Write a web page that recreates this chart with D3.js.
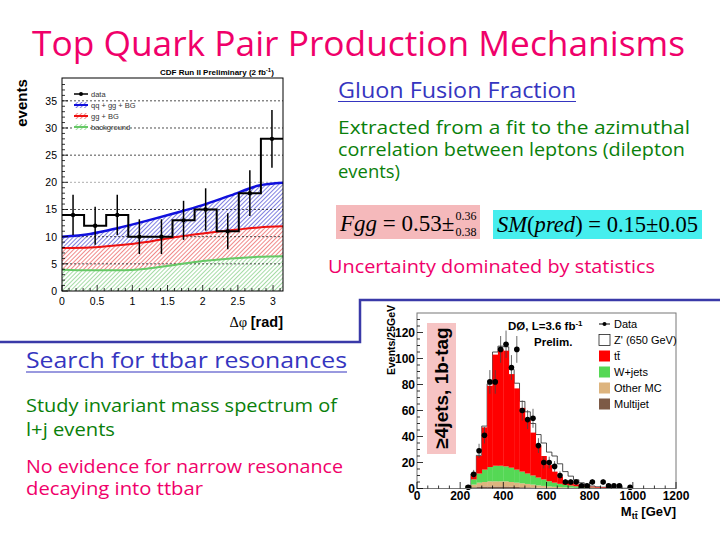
<!DOCTYPE html>
<html>
<head>
<script src="https://d3js.org/d3.v7.min.js"></script>
<style>
body { margin: 0; background: #fff; }
svg { display: block; }
.slide { font-family: "Comic Sans MS", "Open Sans", sans-serif; }
.plot text { font-family: Arial, "Liberation Sans", sans-serif; }
</style>
</head>
<body>
<svg width="720" height="540"></svg>
<script>

// CDF delta-phi distribution (10 bins from 0 to pi)
const dphiCounts = [14, 12, 14, 10, 10, 13, 15, 11, 18, 28];
const dphiErr    = [3.7, 3.5, 3.7, 3.2, 3.2, 3.6, 3.9, 3.3, 4.2, 5.3];

// fit curves
const fitPhi   = [0, 0.4, 0.8, 1.2, 1.6, 2.0, 2.4, 2.8, 3.1416];
const fitTotal = [10.0, 10.5, 11.6, 12.9, 14.3, 15.8, 17.6, 19.4, 19.9];
const fitGG    = [7.9, 8.0, 8.4, 9.0, 9.9, 10.6, 11.2, 11.7, 11.9];
const fitBkg   = [3.9, 3.8, 3.8, 4.1, 4.8, 5.5, 6.0, 6.3, 6.4];

// D0 M_tt spectrum, 25 GeV bins (low edges)
const mttLow   = [225,250,275,300,325,350,375,400,425,450,475,500,525,550,575,600,625,650,675,700,725,750,775,800,825,850,875,900,925,950,975];
const multijet = [0.3,1,1.5,1.5,1.5,1.5,1.5,1.5,1.4,1.2,1,0.9,0.8,0.6,0.5,0.4,0.3,0.3,0.2,0.2,0.1,0.1,0.1,0.1,0,0,0,0,0,0,0];
const otherMC  = [0.5,2,3,3.5,4,4,4,4,3.6,3.3,3,2.6,2.2,1.8,1.5,1.2,1,0.8,0.6,0.5,0.4,0.3,0.2,0.2,0.1,0.1,0.1,0,0,0,0];
const wjets    = [1,4,7,9.5,11,12,12,11.5,11,10,9,8,7,6,5,4,3.2,2.5,2,1.6,1.2,0.9,0.7,0.5,0.4,0.3,0.2,0.2,0.1,0.1,0.1];
const ttbar    = [0.2,4,13.5,32.5,62.5,85.5,89.5,89,72,62.5,49,41.5,33,24.6,18,12.4,8.5,5.4,3.2,2.2,1.5,1.1,0.9,0.6,0.5,0.4,0.3,0.2,0.2,0.1,0.1];
const zprime   = [0,0.3,0.5,1,1.5,2,2.5,3,3.5,4,5,6,7,8.5,10,10,12,10,7,5,3.5,2,1,0.5,0.3,0.2,0,0,0,0,0];
const mttData  = [1,11,29,41,82,82,107,111,93,107,60,53,54,33,20,20,17,10,5,5,5,2,2,5,null,5,2,2,2,null,1];
const mttErr   = [1,3.3,5.4,6.4,9.1,9.1,10.3,10.5,9.6,10.3,7.7,7.3,7.3,5.7,4.5,4.5,4.1,3.2,2.2,2.2,2.2,1.4,1.4,2.2,0,2.2,1.4,1.4,1.4,0,1];

const svg = d3.select("svg");
const defs = svg.append("defs");

function hatch(id, color) {
  const p = defs.append("pattern").attr("id", id)
    .attr("patternUnits", "userSpaceOnUse")
    .attr("width", 3).attr("height", 3)
    .attr("patternTransform", "rotate(45)");
  p.append("rect").attr("width", 3).attr("height", 3).attr("fill", "#fff");
  p.append("line").attr("x1", 0.5).attr("y1", 0).attr("x2", 0.5).attr("y2", 3)
    .attr("stroke", color).attr("stroke-width", 1);
}
hatch("hBlue", "#8080e0");
hatch("hRed", "#f08a8a");
hatch("hGreen", "#a6dca6");

// ---------------- slide text ----------------
const slide = svg.append("g").attr("class", "slide");
const pink = "#f0006a", green = "#0a800a", blue = "#3535c0";

function line(txt, x, y, size, color, len) {
  return slide.append("text").attr("x", x).attr("y", y)
    .attr("font-size", size).attr("fill", color)
    .attr("textLength", len).attr("lengthAdjust", "spacingAndGlyphs")
    .text(txt);
}
line("Top Quark Pair Production Mechanisms", 32, 56, 34, pink, 653);
line("Gluon Fusion Fraction", 338, 98, 21, blue, 238);
slide.append("line").attr("x1", 338).attr("x2", 576).attr("y1", 101.5).attr("y2", 101.5)
  .attr("stroke", blue).attr("stroke-width", 1.2);
line("Extracted from a fit to the azimuthal", 338, 134, 17.5, green, 352);
line("correlation between leptons (dilepton", 338, 156, 17.5, green, 347);
line("events)", 338, 178, 17.5, green, 62);
line("Uncertainty dominated by statistics", 328, 273, 17.5, pink, 327);
line("Search for ttbar resonances", 26, 368, 21, blue, 321);
slide.append("line").attr("x1", 26).attr("x2", 347).attr("y1", 372).attr("y2", 372)
  .attr("stroke", blue).attr("stroke-width", 1.2);
line("Study invariant mass spectrum of", 26, 412, 17.5, green, 311);
line("l+j events", 26, 436, 17.5, green, 89);
line("No evidence for narrow resonance", 26, 473, 17.5, pink, 317);
line("decaying into ttbar", 26, 495, 17.5, pink, 177);

// formula boxes
const serif = "'Liberation Serif', 'Times New Roman', serif";
svg.append("rect").attr("x", 336).attr("y", 205).attr("width", 144).attr("height", 34).attr("fill", "#f5b9bb");
svg.append("rect").attr("x", 493).attr("y", 210).attr("width", 209).attr("height", 29).attr("fill", "#46eeee");
const f1 = svg.append("text").attr("x", 340).attr("y", 231).attr("font-family", serif).attr("font-size", 23);
f1.append("tspan").attr("font-style", "italic").text("Fgg");
f1.append("tspan").text(" = 0.53\u00b1");
const f1w = f1.node().getComputedTextLength();
svg.append("text").attr("x", 340 + f1w + 1).attr("y", 220).attr("font-family", serif).attr("font-size", 12).text("0.36");
svg.append("text").attr("x", 340 + f1w + 1).attr("y", 236).attr("font-family", serif).attr("font-size", 12).text("0.38");
const f2 = svg.append("text").attr("x", 497).attr("y", 232).attr("font-family", serif).attr("font-size", 23)
  .attr("textLength", 201).attr("lengthAdjust", "spacingAndGlyphs");
f2.append("tspan").attr("font-style", "italic").text("SM");
f2.append("tspan").text("(");
f2.append("tspan").attr("font-style", "italic").text("pred");
f2.append("tspan").text(") = 0.15\u00b10.05");

// blue separator frame
svg.append("path").attr("d", "M0,342H360V300H720")
  .attr("fill", "none").attr("stroke", "#3a3aa8").attr("stroke-width", 2.5);

// ---------------- CDF plot ----------------
const p1 = svg.append("g").attr("class", "plot");
const x1 = d3.scaleLinear().domain([0, Math.PI]).range([62, 283]);
const y1 = d3.scaleLinear().domain([0, 39.2]).range([291, 78]);

const fit = fitPhi.map((p, i) => ({p: p, t: fitTotal[i], g: fitGG[i], b: fitBkg[i]}));
const area = (lo, hi) => d3.area().curve(d3.curveMonotoneX)
  .x(d => x1(d.p)).y0(d => y1(lo(d))).y1(d => y1(hi(d)));
p1.append("path").datum(fit).attr("d", area(d => d.g, d => d.t)).attr("fill", "url(#hBlue)");
p1.append("path").datum(fit).attr("d", area(d => d.b, d => d.g)).attr("fill", "url(#hRed)");
p1.append("path").datum(fit).attr("d", area(d => 0, d => d.b)).attr("fill", "url(#hGreen)");

// dashed grid
p1.selectAll(".grid").data(d3.range(5, 36, 5)).enter().append("line")
  .attr("x1", 62).attr("x2", 283).attr("y1", d => y1(d)).attr("y2", d => y1(d))
  .attr("stroke", d => d === 20 ? "#999" : "#222").attr("stroke-width", 0.8)
  .attr("stroke-dasharray", "2,2");

const curve = key => d3.line().curve(d3.curveMonotoneX).x(d => x1(d.p)).y(d => y1(d[key]));
p1.append("path").datum(fit).attr("d", curve("b")).attr("fill", "none").attr("stroke", "#66c966").attr("stroke-width", 2);
p1.append("path").datum(fit).attr("d", curve("g")).attr("fill", "none").attr("stroke", "#ee1111").attr("stroke-width", 2);
p1.append("path").datum(fit).attr("d", curve("t")).attr("fill", "none").attr("stroke", "#1010dd").attr("stroke-width", 2.5);

// data histogram
const bw = Math.PI / dphiCounts.length;
let step = "M" + x1(0) + "," + y1(dphiCounts[0]);
dphiCounts.forEach((c, i) => { step += "H" + x1((i + 1) * bw); if (i + 1 < dphiCounts.length) step += "V" + y1(dphiCounts[i + 1]); });
p1.append("path").attr("d", step).attr("fill", "none").attr("stroke", "#000").attr("stroke-width", 2);
const pts1 = p1.selectAll(".pt").data(dphiCounts).enter().append("g");
pts1.append("line")
  .attr("x1", (d, i) => x1((i + 0.5) * bw)).attr("x2", (d, i) => x1((i + 0.5) * bw))
  .attr("y1", (d, i) => y1(d - dphiErr[i])).attr("y2", (d, i) => y1(d + dphiErr[i]))
  .attr("stroke", "#000").attr("stroke-width", 1.5);
pts1.append("circle").attr("cx", (d, i) => x1((i + 0.5) * bw)).attr("cy", d => y1(d))
  .attr("r", 2.2).attr("fill", "#000");

// frame and ticks
p1.append("rect").attr("x", 62).attr("y", 78).attr("width", 221).attr("height", 213)
  .attr("fill", "none").attr("stroke", "#000").attr("stroke-width", 1);
p1.selectAll(".xt").data(d3.range(0, 3.15, 0.1)).enter().append("line")
  .attr("x1", d => x1(d)).attr("x2", d => x1(d))
  .attr("y1", 291).attr("y2", (d, i) => i % 5 === 0 ? 285 : 288).attr("stroke", "#000").attr("stroke-width", 0.8);
p1.selectAll(".yt").data(d3.range(0, 39, 1)).enter().append("line")
  .attr("x1", 62).attr("x2", (d, i) => i % 5 === 0 ? 68 : 65)
  .attr("y1", d => y1(d)).attr("y2", d => y1(d)).attr("stroke", "#000").attr("stroke-width", 0.8);
p1.selectAll(".xl").data(d3.range(0, 3.1, 0.5)).enter().append("text")
  .attr("x", d => x1(d)).attr("y", 305).attr("text-anchor", "middle").attr("font-size", 10.5)
  .text(d => d3.format("~g")(d));
p1.selectAll(".yl").data(d3.range(0, 36, 5)).enter().append("text")
  .attr("x", 57).attr("y", d => y1(d) + 4).attr("text-anchor", "end").attr("font-size", 10.5)
  .text(d => d);
p1.append("text").attr("transform", "translate(27,103) rotate(-90)").attr("text-anchor", "middle")
  .attr("font-size", 15).attr("font-weight", "bold").text("events");
const xt1 = p1.append("text").attr("x", 283).attr("y", 327).attr("text-anchor", "end").attr("font-size", 14.5);
xt1.append("tspan").attr("font-family", serif).text("\u0394\u03c6 ");
xt1.append("tspan").attr("font-weight", "bold").text("[rad]");
const cdf = p1.append("text").attr("x", 160).attr("y", 75).attr("font-size", 8).attr("font-weight", "bold");
cdf.append("tspan").text("CDF Run II Preliminary (2 fb");
cdf.append("tspan").attr("dy", -3).attr("font-size", 6).text("-1");
cdf.append("tspan").attr("dy", 3).text(")");

// legend
const leg1 = [
  {name: "data", fill: null, stroke: "#000"},
  {name: "qq + gg + BG", fill: "url(#hBlue)", stroke: "#1010dd"},
  {name: "gg + BG", fill: "url(#hRed)", stroke: "#ee1111"},
  {name: "background", fill: "url(#hGreen)", stroke: "#66c966"}
];
const lg = p1.selectAll(".lg").data(leg1).enter().append("g")
  .attr("transform", (d, i) => "translate(74," + (94 + i * 11) + ")");
lg.filter(d => d.fill).append("rect").attr("x", 0).attr("y", -3).attr("width", 14).attr("height", 6).attr("fill", d => d.fill);
lg.append("line").attr("x1", 0).attr("x2", 14).attr("stroke", d => d.stroke).attr("stroke-width", (d, i) => i ? 2 : 1.5);
lg.filter((d, i) => i === 0).append("circle").attr("cx", 7).attr("r", 2).attr("fill", "#000");
lg.append("text").attr("x", 17).attr("y", 3).attr("font-size", 7.5).attr("fill", "#333").text(d => d.name);

// ---------------- D0 plot ----------------
const p2 = svg.append("g").attr("class", "plot");
const x2 = d3.scaleLinear().domain([0, 1200]).range([417, 676]);
const y2 = d3.scaleLinear().domain([0, 135]).range([488.5, 313]);

const rows = mttLow.map((m, i) => ({m: m, multijet: multijet[i], other: otherMC[i], wjets: wjets[i], ttbar: ttbar[i]}));
const keys = ["multijet", "other", "wjets", "ttbar"];
const colors = {multijet: "#7d5a46", other: "#ddb47e", wjets: "#55d855", ttbar: "#ff0000"};
const stack = d3.stack().keys(keys)(rows);

// Z' outline on top of the total
const tot = rows.map((r, i) => r.multijet + r.other + r.wjets + r.ttbar + zprime[i]);
let zp = "M" + x2(mttLow[0]) + "," + y2(0);
tot.forEach((t, i) => { zp += "V" + y2(t) + "H" + x2(mttLow[i] + 25); });
zp += "V" + y2(0);
p2.append("path").attr("d", zp).attr("fill", "#fff").attr("stroke", "#222").attr("stroke-width", 0.8);

p2.selectAll(".layer").data(stack).enter().append("g").attr("fill", d => colors[d.key])
  .selectAll("rect").data(d => d).enter().append("rect")
  .attr("x", d => x2(d.data.m)).attr("width", d => x2(d.data.m + 25) - x2(d.data.m) + 0.3)
  .attr("y", d => y2(d[1])).attr("height", d => y2(d[0]) - y2(d[1]));

// pink label box
p2.append("rect").attr("x", 427).attr("y", 323).attr("width", 29).attr("height", 131).attr("fill", "#f6c4c4");
p2.append("text").attr("transform", "translate(448,388) rotate(-90)").attr("text-anchor", "middle")
  .attr("font-size", 19).attr("font-weight", "bold").text("\u22654jets, 1b-tag");

// data points
const pts2 = p2.selectAll(".pt2").data(mttData.map((v, i) => ({v: v, e: mttErr[i], m: mttLow[i]})).filter(d => d.v !== null))
  .enter().append("g");
pts2.append("line").attr("x1", d => x2(d.m + 12.5)).attr("x2", d => x2(d.m + 12.5))
  .attr("y1", d => y2(d.v - d.e)).attr("y2", d => y2(d.v + d.e)).attr("stroke", "#444").attr("stroke-width", 0.8);
pts2.append("circle").attr("cx", d => x2(d.m + 12.5)).attr("cy", d => y2(d.v)).attr("r", 2.8).attr("fill", "#000");

// frame and ticks
p2.append("rect").attr("x", 417).attr("y", 313).attr("width", 259).attr("height", 175.5)
  .attr("fill", "none").attr("stroke", "#777").attr("stroke-width", 1);
p2.selectAll(".xt").data(d3.range(0, 1201, 50)).enter().append("line")
  .attr("x1", d => x2(d)).attr("x2", d => x2(d))
  .attr("y1", 488.5).attr("y2", d => d % 200 === 0 ? 482 : 485.5).attr("stroke", "#000").attr("stroke-width", 0.8);
p2.selectAll(".yt").data(d3.range(0, 135, 5)).enter().append("line")
  .attr("x1", 417).attr("x2", d => d % 20 === 0 ? 423 : 420)
  .attr("y1", d => y2(d)).attr("y2", d => y2(d)).attr("stroke", "#000").attr("stroke-width", 0.8);
p2.selectAll(".xl").data(d3.range(0, 1201, 200)).enter().append("text")
  .attr("x", d => x2(d)).attr("y", 500).attr("text-anchor", "middle")
  .attr("font-size", 12).attr("font-weight", "bold").text(d => d);
p2.selectAll(".yl").data(d3.range(0, 121, 20)).enter().append("text")
  .attr("x", 415).attr("y", d => y2(d) + 4.5).attr("text-anchor", "end")
  .attr("font-size", 12).attr("font-weight", "bold").text(d => d);
p2.append("text").attr("transform", "translate(395,340) rotate(-90)").attr("text-anchor", "middle")
  .attr("font-size", 10.5).attr("font-weight", "bold").text("Events/25GeV");
const xt2 = p2.append("text").attr("x", 676).attr("y", 516).attr("text-anchor", "end")
  .attr("font-size", 13).attr("font-weight", "bold");
xt2.append("tspan").text("M");
xt2.append("tspan").attr("dy", 3).attr("font-size", 9).text("t\u0074\u0304");
xt2.append("tspan").attr("dy", -3).text(" [GeV]");

const d0 = p2.append("text").attr("x", 508).attr("y", 330).attr("font-size", 11.5).attr("font-weight", "bold");
d0.append("tspan").text("D\u00d8,  L=3.6 fb");
d0.append("tspan").attr("dy", -4).attr("font-size", 8).text("-1");
p2.append("text").attr("x", 534).attr("y", 346).attr("font-size", 11.5).attr("font-weight", "bold").text("Prelim.");

// legend
const leg2 = [
  {name: "Data", fill: null},
  {name: "Z' (650 GeV)", fill: "#fff"},
  {name: "t\u0074\u0304", fill: colors.ttbar},
  {name: "W+jets", fill: colors.wjets},
  {name: "Other MC", fill: colors.other},
  {name: "Multijet", fill: colors.multijet}
];
const lg2 = p2.selectAll(".lg2").data(leg2).enter().append("g")
  .attr("transform", (d, i) => "translate(599," + [324, 340, 356, 372, 388, 404][i] + ")");
lg2.filter(d => d.fill).append("rect").attr("x", 0).attr("y", -5.5).attr("width", 11).attr("height", 11)
  .attr("fill", d => d.fill).attr("stroke", d => d.fill === "#fff" ? "#222" : "none").attr("stroke-width", 0.8);
lg2.filter(d => !d.fill).append("line").attr("x1", 0).attr("x2", 11).attr("stroke", "#000").attr("stroke-width", 1);
lg2.filter(d => !d.fill).append("circle").attr("cx", 5.5).attr("r", 2).attr("fill", "#000");
lg2.append("text").attr("x", 15).attr("y", 4).attr("font-size", 11).text(d => d.name);

</script>
</body>
</html>
